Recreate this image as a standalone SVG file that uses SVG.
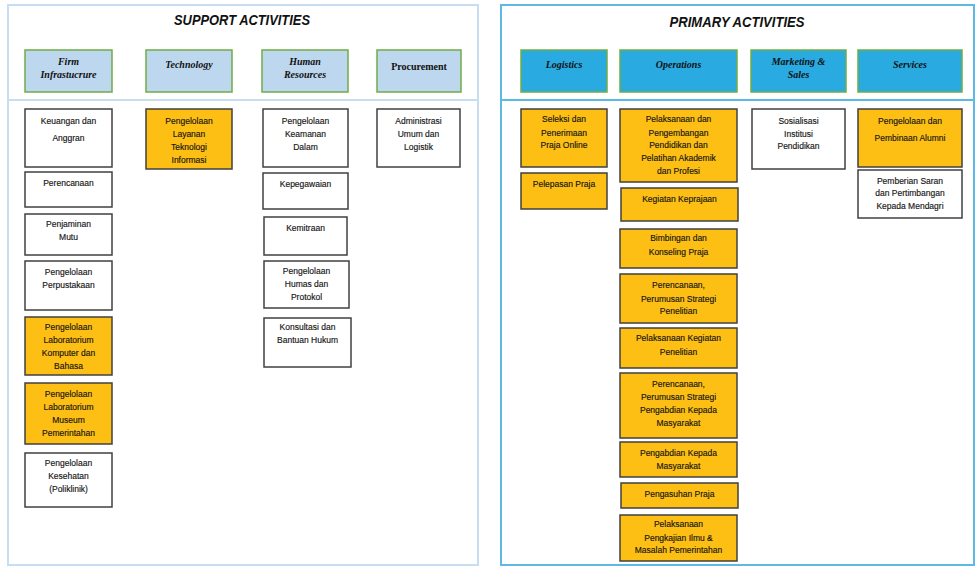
<svg xmlns="http://www.w3.org/2000/svg" width="976" height="566" viewBox="0 0 976 566">
<style>
.panelL{fill:none;stroke:#c6ddf2;stroke-width:2}
.panelR{fill:none;stroke:#5cb9e8;stroke-width:2}
.divL{stroke:#c6ddf2;stroke-width:2}
.divR{stroke:#5cb9e8;stroke-width:2}
.hdrL{fill:#bdd7ee;stroke:#70ad47;stroke-width:1.5}
.hdrR{fill:#29abe2;stroke:#70ad47;stroke-width:1.5}
.box{fill:#ffffff;stroke:#404040;stroke-width:1.5}
.ybox{fill:#fdbf13;stroke:#404040;stroke-width:1.5}
.t{font-family:"Liberation Sans",Arial,sans-serif;font-size:8.5px;fill:#151515;text-anchor:middle;stroke:#151515;stroke-width:0.15}
.h{font-family:"Liberation Serif","DejaVu Serif",serif;font-size:10px;font-weight:bold;font-style:italic;fill:#111;text-anchor:middle}
.hn{font-family:"Liberation Serif","DejaVu Serif",serif;font-size:10px;font-weight:bold;fill:#111;text-anchor:middle}
.title{font-family:"Liberation Sans",Arial,sans-serif;font-size:14px;font-weight:bold;font-style:italic;fill:#111;text-anchor:middle}
</style>
<rect width="976" height="566" fill="#ffffff"/>
<g id="panel-support">
<rect class="panelL" x="8" y="5" width="470" height="560"/>
<line class="divL" x1="8" y1="100" x2="478" y2="100"/>
<text class="title" x="242" y="25" textLength="136" lengthAdjust="spacingAndGlyphs">SUPPORT ACTIVITIES</text>
</g>
<g id="panel-primary">
<rect class="panelR" x="501" y="5" width="473" height="560"/>
<line class="divR" x1="501" y1="100" x2="974" y2="100"/>
<text class="title" x="737" y="27" textLength="135" lengthAdjust="spacingAndGlyphs">PRIMARY ACTIVITIES</text>
</g>
<g id="connectors"/>
<!-- support headers -->
<g id="hdr-firm"><rect class="hdrL" x="25" y="50" width="87" height="42"/><text class="h" x="68.5" y="65">Firm</text><text class="h" x="68.5" y="78">Infrastucrure</text></g>
<g id="hdr-tech"><rect class="hdrL" x="146" y="50" width="86" height="42"/><text class="h" x="189" y="68">Technology</text></g>
<g id="hdr-hr"><rect class="hdrL" x="262" y="50" width="86" height="42"/><text class="h" x="305" y="65">Human</text><text class="h" x="305" y="78">Resources</text></g>
<g id="hdr-proc"><rect class="hdrL" x="377" y="50" width="84" height="42"/><text class="hn" x="419" y="70">Procurement</text></g>
<!-- primary headers -->
<g id="hdr-log"><rect class="hdrR" x="521" y="50" width="86" height="42"/><text class="h" x="564" y="68">Logistics</text></g>
<g id="hdr-ops"><rect class="hdrR" x="620" y="50" width="117" height="42"/><text class="h" x="678.5" y="68">Operations</text></g>
<g id="hdr-mkt"><rect class="hdrR" x="751" y="50" width="95" height="42"/><text class="h" x="798.5" y="65">Marketing &amp;</text><text class="h" x="798.5" y="78">Sales</text></g>
<g id="hdr-svc"><rect class="hdrR" x="858" y="50" width="104" height="42"/><text class="h" x="910" y="68">Services</text></g>
<!-- firm infrastructure -->
<g id="n-keuangan"><rect class="box" x="25" y="109" width="87" height="58"/><text class="t" x="68.5" y="124">Keuangan dan</text><text class="t" x="68.5" y="141">Anggran</text></g>
<g id="n-perencanaan"><rect class="box" x="25" y="172" width="87" height="35"/><text class="t" x="68.5" y="186">Perencanaan</text></g>
<g id="n-penjaminan"><rect class="box" x="25" y="214" width="87" height="41"/><text class="t" x="68.5" y="227">Penjaminan</text><text class="t" x="68.5" y="240">Mutu</text></g>
<g id="n-perpustakaan"><rect class="box" x="25" y="261" width="87" height="49"/><text class="t" x="68.5" y="275">Pengelolaan</text><text class="t" x="68.5" y="288">Perpustakaan</text></g>
<g id="n-labkomputer"><rect class="ybox" x="25" y="317" width="87" height="58"/><text class="t" x="68.5" y="330">Pengelolaan</text><text class="t" x="68.5" y="343">Laboratorium</text><text class="t" x="68.5" y="356">Komputer dan</text><text class="t" x="68.5" y="369">Bahasa</text></g>
<g id="n-labmuseum"><rect class="ybox" x="25" y="383" width="87" height="61"/><text class="t" x="68.5" y="397">Pengelolaan</text><text class="t" x="68.5" y="410">Laboratorium</text><text class="t" x="68.5" y="423">Museum</text><text class="t" x="68.5" y="436">Pemerintahan</text></g>
<g id="n-kesehatan"><rect class="box" x="25" y="453" width="87" height="54"/><text class="t" x="68.5" y="466">Pengelolaan</text><text class="t" x="68.5" y="479">Kesehatan</text><text class="t" x="68.5" y="492">(Poliklinik)</text></g>
<!-- technology -->
<g id="n-layananti"><rect class="ybox" x="146" y="109" width="86" height="60"/><text class="t" x="189" y="124">Pengelolaan</text><text class="t" x="189" y="137">Layanan</text><text class="t" x="189" y="150">Teknologi</text><text class="t" x="189" y="163">Informasi</text></g>
<!-- human resources -->
<g id="n-keamanan"><rect class="box" x="263" y="109" width="85" height="58"/><text class="t" x="305.5" y="124">Pengelolaan</text><text class="t" x="305.5" y="137">Keamanan</text><text class="t" x="305.5" y="150">Dalam</text></g>
<g id="n-kepegawaian"><rect class="box" x="263" y="173" width="85" height="36"/><text class="t" x="305.5" y="187">Kepegawaian</text></g>
<g id="n-kemitraan"><rect class="box" x="264" y="217" width="83" height="38"/><text class="t" x="305.5" y="231">Kemitraan</text></g>
<g id="n-humas"><rect class="box" x="264" y="261" width="85" height="47"/><text class="t" x="306.5" y="274">Pengelolaan</text><text class="t" x="306.5" y="287">Humas dan</text><text class="t" x="306.5" y="300">Protokol</text></g>
<g id="n-konsultasi"><rect class="box" x="264" y="318" width="87" height="49"/><text class="t" x="307.5" y="330">Konsultasi dan</text><text class="t" x="307.5" y="343">Bantuan Hukum</text></g>
<!-- procurement -->
<g id="n-administrasi"><rect class="box" x="377" y="109" width="83" height="58"/><text class="t" x="418.5" y="124">Administrasi</text><text class="t" x="418.5" y="137">Umum dan</text><text class="t" x="418.5" y="150">Logistik</text></g>
<!-- logistics -->
<g id="n-seleksi"><rect class="ybox" x="521" y="109" width="86" height="58"/><text class="t" x="564" y="122">Seleksi  dan</text><text class="t" x="564" y="136">Penerimaan</text><text class="t" x="564" y="148">Praja Online</text></g>
<g id="n-pelepasan"><rect class="ybox" x="521" y="173" width="86" height="36"/><text class="t" x="564" y="187">Pelepasan  Praja</text></g>
<!-- operations -->
<g id="n-pelaksanaan-pendidikan"><rect class="ybox" x="620" y="109" width="117" height="73"/><text class="t" x="678.5" y="122">Pelaksanaan  dan</text><text class="t" x="678.5" y="136">Pengembangan</text><text class="t" x="678.5" y="148">Pendidikan dan</text><text class="t" x="678.5" y="161">Pelatihan  Akademik</text><text class="t" x="678.5" y="174">dan Profesi</text></g>
<g id="n-keprajaan"><rect class="ybox" x="621" y="188" width="117" height="33"/><text class="t" x="679.5" y="202">Kegiatan  Keprajaan</text></g>
<g id="n-bimbingan"><rect class="ybox" x="620" y="229" width="117" height="39"/><text class="t" x="678.5" y="241">Bimbingan dan</text><text class="t" x="678.5" y="255">Konseling Praja</text></g>
<g id="n-ren-penelitian"><rect class="ybox" x="620" y="274" width="117" height="49"/><text class="t" x="678.5" y="288">Perencanaan,</text><text class="t" x="678.5" y="302">Perumusan Strategi</text><text class="t" x="678.5" y="314">Penelitian</text></g>
<g id="n-pel-penelitian"><rect class="ybox" x="620" y="328" width="117" height="40"/><text class="t" x="678.5" y="341">Pelaksanaan  Kegiatan</text><text class="t" x="678.5" y="355">Penelitian</text></g>
<g id="n-ren-pengabdian"><rect class="ybox" x="620" y="373" width="117" height="65"/><text class="t" x="678.5" y="387">Perencanaan,</text><text class="t" x="678.5" y="400">Perumusan Strategi</text><text class="t" x="678.5" y="413">Pengabdian Kepada</text><text class="t" x="678.5" y="426">Masyarakat</text></g>
<g id="n-pengabdian"><rect class="ybox" x="620" y="442" width="117" height="35"/><text class="t" x="678.5" y="456">Pengabdian Kepada</text><text class="t" x="678.5" y="469">Masyarakat</text></g>
<g id="n-pengasuhan"><rect class="ybox" x="621" y="483" width="117" height="25"/><text class="t" x="679.5" y="497">Pengasuhan Praja</text></g>
<g id="n-pengkajian"><rect class="ybox" x="620" y="515" width="117" height="46"/><text class="t" x="678.5" y="527">Pelaksanaan</text><text class="t" x="678.5" y="541">Pengkajian  Ilmu &amp;</text><text class="t" x="678.5" y="553">Masalah  Pemerintahan</text></g>
<!-- marketing -->
<g id="n-sosialisasi"><rect class="box" x="752" y="109" width="93" height="60"/><text class="t" x="798.5" y="124">Sosialisasi</text><text class="t" x="798.5" y="137">Institusi</text><text class="t" x="798.5" y="149">Pendidikan</text></g>
<!-- services -->
<g id="n-alumni"><rect class="ybox" x="858" y="109" width="104" height="58"/><text class="t" x="910" y="124">Pengelolaan dan</text><text class="t" x="910" y="141">Pembinaan Alumni</text></g>
<g id="n-saran"><rect class="box" x="858" y="170" width="104" height="48"/><text class="t" x="910" y="184">Pemberian Saran</text><text class="t" x="910" y="196">dan Pertimbangan</text><text class="t" x="910" y="209">Kepada Mendagri</text></g>
</svg>
